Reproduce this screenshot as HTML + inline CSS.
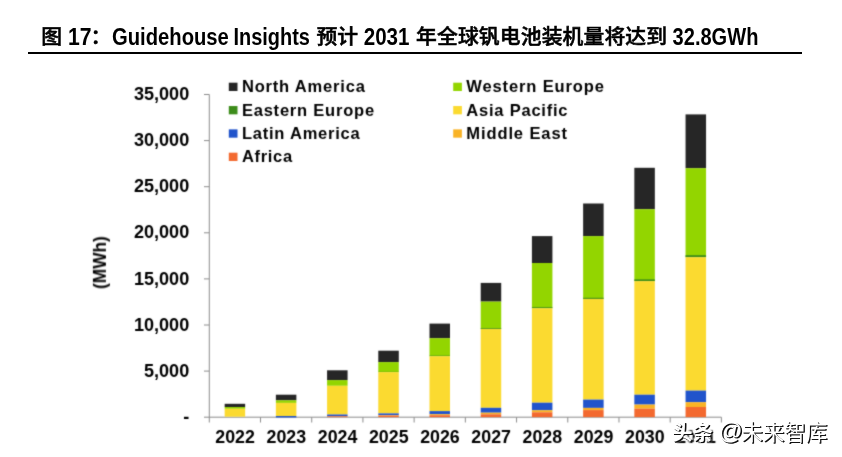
<!DOCTYPE html>
<html lang="zh-CN">
<head>
<meta charset="utf-8">
<title>图 17：Guidehouse Insights 预计 2031 年全球钒电池装机量将达到 32.8GWh</title>
<style>
html,body{margin:0;padding:0;background:#fff}
body{width:842px;height:457px;position:relative;overflow:hidden;font-family:"Liberation Sans","Noto Sans CJK SC",sans-serif}
.title{position:absolute;left:41px;top:22px;margin:0;white-space:pre;font:500 20.8px/30px "Liberation Sans","Noto Sans CJK SC",sans-serif;color:#000}
.title .c{position:relative;top:-1px;-webkit-text-stroke:0.55px #000}
.title .l{display:inline-block;font-size:23px;font-weight:700;transform-origin:0 50%}
.rule{position:absolute;left:28px;top:52px;width:774px;height:2px;background:#000}
.chart{position:absolute;left:0;top:0;width:842px;height:457px}
.chart text{font:700 18px "Liberation Sans",sans-serif;fill:#000}
.chart text.lg{font-size:16.5px}
.wm{position:absolute;left:672px;top:417px;margin:0;white-space:pre;font:400 21.5px/30px "Liberation Sans","Noto Sans CJK SC",sans-serif;color:#fff;text-shadow:1px 1px 0 #111,1.4px 1.4px 0.4px #111}
.wm b{text-shadow:1px 1px 0 #111,1.4px 1.4px 0.4px #111,0 0 1.5px #fff,0 0 1.5px #fff,-1px -1px 2px #fff,1px 1px 2px #fff}
.wm b{font-weight:700;font-size:20.4px;margin-right:5.8px}
.wm i{font-style:normal;font-size:23.8px;margin-right:-1.6px;position:relative;top:-0.6px}
</style>
</head>
<body>
<h1 class="title"><span class="c" style="margin-left:0.32px">图</span><span class="l" style="margin-left:-0.42px;transform:scaleX(0.9195)"> 17</span><span class="c" style="margin-left:-3.12px">：</span><span class="l" style="margin-left:0.18px;transform:scaleX(0.8789)">Guidehouse</span><span class="l" style="margin-left:-16.44px;transform:scaleX(0.8664)"> Insights </span><span class="c" style="margin-left:-12.41px">预计</span><span class="l" style="margin-left:-0.08px;transform:scaleX(0.8947)"> 2031 </span><span class="c" style="margin-left:-5.94px;letter-spacing:0.13px">年全球钒电池装机量将达到</span><span class="l" style="margin-left:0.12px;transform:scaleX(0.8719)"> 32.8GWh</span></h1>
<div class="rule"></div>
<svg class="chart" width="842" height="457" viewBox="0 0 842 457">
<defs><filter id="soft" x="0" y="0" width="842" height="457" filterUnits="userSpaceOnUse" color-interpolation-filters="sRGB"><feConvolveMatrix order="3" kernelMatrix="1 3 1 3 18 3 1 3 1" divisor="34" edgeMode="duplicate" preserveAlpha="false"/></filter></defs>
<g filter="url(#soft)">
<g stroke="#8c8c8c" stroke-width="1" fill="none">
<path d="M209.30 94.50V422.50"/>
<path d="M204.00 417.20H721.40"/>
<path d="M204.00 371.10H209.30"/>
<path d="M204.00 325.00H209.30"/>
<path d="M204.00 278.90H209.30"/>
<path d="M204.00 232.80H209.30"/>
<path d="M204.00 186.70H209.30"/>
<path d="M204.00 140.60H209.30"/>
<path d="M204.00 94.50H209.30"/>
<path d="M260.51 417.20V422.50"/>
<path d="M311.72 417.20V422.50"/>
<path d="M362.93 417.20V422.50"/>
<path d="M414.14 417.20V422.50"/>
<path d="M465.35 417.20V422.50"/>
<path d="M516.56 417.20V422.50"/>
<path d="M567.77 417.20V422.50"/>
<path d="M618.98 417.20V422.50"/>
<path d="M670.19 417.20V422.50"/>
<path d="M721.40 417.20V422.50"/>
</g>
<rect x="224.66" y="403.80" width="20.50" height="3.20" fill="#262626"/>
<rect x="224.66" y="407.00" width="20.50" height="1.80" fill="#93d500"/>
<rect x="224.66" y="408.80" width="20.50" height="7.90" fill="#fbda30"/>
<rect x="275.87" y="394.70" width="20.50" height="5.60" fill="#262626"/>
<rect x="275.87" y="400.30" width="20.50" height="2.60" fill="#93d500"/>
<rect x="275.87" y="402.90" width="20.50" height="13.10" fill="#fbda30"/>
<rect x="275.87" y="416.00" width="20.50" height="1.50" fill="#2154cb"/>
<rect x="327.08" y="370.30" width="20.50" height="9.80" fill="#262626"/>
<rect x="327.08" y="380.10" width="20.50" height="5.70" fill="#93d500"/>
<rect x="327.08" y="385.80" width="20.50" height="28.70" fill="#fbda30"/>
<rect x="327.08" y="414.50" width="20.50" height="1.60" fill="#2154cb"/>
<rect x="327.08" y="416.10" width="20.50" height="0.20" fill="#f9b326"/>
<rect x="327.08" y="416.30" width="20.50" height="0.80" fill="#f3692f"/>
<rect x="378.29" y="350.70" width="20.50" height="11.40" fill="#262626"/>
<rect x="378.29" y="362.10" width="20.50" height="10.00" fill="#93d500"/>
<rect x="378.29" y="371.80" width="20.50" height="0.30" fill="#3c8c1a"/>
<rect x="378.29" y="372.10" width="20.50" height="41.30" fill="#fbda30"/>
<rect x="378.29" y="413.40" width="20.50" height="1.70" fill="#2154cb"/>
<rect x="378.29" y="415.10" width="20.50" height="0.50" fill="#f9b326"/>
<rect x="378.29" y="415.60" width="20.50" height="1.50" fill="#f3692f"/>
<rect x="429.50" y="323.60" width="20.50" height="14.60" fill="#262626"/>
<rect x="429.50" y="338.20" width="20.50" height="18.00" fill="#93d500"/>
<rect x="429.50" y="355.60" width="20.50" height="0.60" fill="#3c8c1a"/>
<rect x="429.50" y="356.20" width="20.50" height="54.90" fill="#fbda30"/>
<rect x="429.50" y="411.10" width="20.50" height="3.10" fill="#2154cb"/>
<rect x="429.50" y="414.20" width="20.50" height="1.00" fill="#f9b326"/>
<rect x="429.50" y="415.20" width="20.50" height="1.90" fill="#f3692f"/>
<rect x="480.71" y="282.90" width="20.50" height="18.70" fill="#262626"/>
<rect x="480.71" y="301.60" width="20.50" height="27.30" fill="#93d500"/>
<rect x="480.71" y="328.10" width="20.50" height="0.80" fill="#3c8c1a"/>
<rect x="480.71" y="328.90" width="20.50" height="78.90" fill="#fbda30"/>
<rect x="480.71" y="407.80" width="20.50" height="4.90" fill="#2154cb"/>
<rect x="480.71" y="412.70" width="20.50" height="1.60" fill="#f9b326"/>
<rect x="480.71" y="414.30" width="20.50" height="2.80" fill="#f3692f"/>
<rect x="531.91" y="236.10" width="20.50" height="26.90" fill="#262626"/>
<rect x="531.91" y="263.00" width="20.50" height="45.20" fill="#93d500"/>
<rect x="531.91" y="307.20" width="20.50" height="1.00" fill="#3c8c1a"/>
<rect x="531.91" y="308.20" width="20.50" height="94.50" fill="#fbda30"/>
<rect x="531.91" y="402.70" width="20.50" height="7.50" fill="#2154cb"/>
<rect x="531.91" y="410.20" width="20.50" height="2.10" fill="#f9b326"/>
<rect x="531.91" y="412.30" width="20.50" height="4.80" fill="#f3692f"/>
<rect x="583.12" y="203.50" width="20.50" height="32.60" fill="#262626"/>
<rect x="583.12" y="236.10" width="20.50" height="62.80" fill="#93d500"/>
<rect x="583.12" y="297.80" width="20.50" height="1.10" fill="#3c8c1a"/>
<rect x="583.12" y="298.90" width="20.50" height="100.70" fill="#fbda30"/>
<rect x="583.12" y="399.60" width="20.50" height="8.30" fill="#2154cb"/>
<rect x="583.12" y="407.90" width="20.50" height="2.20" fill="#f9b326"/>
<rect x="583.12" y="410.10" width="20.50" height="7.00" fill="#f3692f"/>
<rect x="634.34" y="167.80" width="20.50" height="41.40" fill="#262626"/>
<rect x="634.34" y="209.20" width="20.50" height="71.90" fill="#93d500"/>
<rect x="634.34" y="279.40" width="20.50" height="1.70" fill="#3c8c1a"/>
<rect x="634.34" y="281.10" width="20.50" height="113.60" fill="#fbda30"/>
<rect x="634.34" y="394.70" width="20.50" height="9.90" fill="#2154cb"/>
<rect x="634.34" y="404.60" width="20.50" height="4.10" fill="#f9b326"/>
<rect x="634.34" y="408.70" width="20.50" height="8.40" fill="#f3692f"/>
<rect x="685.55" y="114.40" width="20.50" height="53.80" fill="#262626"/>
<rect x="685.55" y="168.20" width="20.50" height="89.00" fill="#93d500"/>
<rect x="685.55" y="255.20" width="20.50" height="2.00" fill="#3c8c1a"/>
<rect x="685.55" y="257.20" width="20.50" height="133.40" fill="#fbda30"/>
<rect x="685.55" y="390.60" width="20.50" height="11.60" fill="#2154cb"/>
<rect x="685.55" y="402.20" width="20.50" height="4.80" fill="#f9b326"/>
<rect x="685.55" y="407.00" width="20.50" height="10.10" fill="#f3692f"/>
<text transform="translate(189.2 423.2) scale(1.005 0.975)" text-anchor="end">-</text>
<text transform="translate(189.2 377) scale(1.005 0.975)" text-anchor="end">5,000</text>
<text transform="translate(189.2 330.8) scale(1.005 0.975)" text-anchor="end">10,000</text>
<text transform="translate(189.2 284.6) scale(1.005 0.975)" text-anchor="end">15,000</text>
<text transform="translate(189.2 238.4) scale(1.005 0.975)" text-anchor="end">20,000</text>
<text transform="translate(189.2 192.2) scale(1.005 0.975)" text-anchor="end">25,000</text>
<text transform="translate(189.2 146) scale(1.005 0.975)" text-anchor="end">30,000</text>
<text transform="translate(189.2 99.8) scale(1.005 0.975)" text-anchor="end">35,000</text>
<text transform="translate(235.1 443.4) scale(0.99 0.975)" text-anchor="middle">2022</text>
<text transform="translate(286.31 443.4) scale(0.99 0.975)" text-anchor="middle">2023</text>
<text transform="translate(337.53 443.4) scale(0.99 0.975)" text-anchor="middle">2024</text>
<text transform="translate(388.74 443.4) scale(0.99 0.975)" text-anchor="middle">2025</text>
<text transform="translate(439.94 443.4) scale(0.99 0.975)" text-anchor="middle">2026</text>
<text transform="translate(491.16 443.4) scale(0.99 0.975)" text-anchor="middle">2027</text>
<text transform="translate(542.37 443.4) scale(0.99 0.975)" text-anchor="middle">2028</text>
<text transform="translate(593.58 443.4) scale(0.99 0.975)" text-anchor="middle">2029</text>
<text transform="translate(644.79 443.4) scale(0.99 0.975)" text-anchor="middle">2030</text>
<text transform="translate(696 443.4) scale(0.99 0.975)" text-anchor="middle">2031</text>
<text transform="translate(105.9 262.6) scale(1 0.96) rotate(-90)" text-anchor="middle">(MWh)</text>
<rect x="228.80" y="82.70" width="8.70" height="8.30" fill="#262626"/>
<text class="lg" x="241.9" y="92.3" letter-spacing="0.83">North America</text>
<rect x="228.80" y="106.03" width="8.70" height="8.30" fill="#3c8c1a"/>
<text class="lg" x="241.9" y="115.63" letter-spacing="0.79">Eastern Europe</text>
<rect x="228.80" y="129.36" width="8.70" height="8.30" fill="#2154cb"/>
<text class="lg" x="241.9" y="138.96" letter-spacing="0.78">Latin America</text>
<rect x="228.80" y="152.69" width="8.70" height="8.30" fill="#f3692f"/>
<text class="lg" x="241.9" y="162.29" letter-spacing="0.68">Africa</text>
<rect x="453.20" y="82.70" width="8.70" height="8.30" fill="#93d500"/>
<text class="lg" x="466.3" y="92.3" letter-spacing="0.88">Western Europe</text>
<rect x="453.20" y="106.03" width="8.70" height="8.30" fill="#fbda30"/>
<text class="lg" x="466.3" y="115.63" letter-spacing="0.78">Asia Pacific</text>
<rect x="453.20" y="129.36" width="8.70" height="8.30" fill="#f9b326"/>
<text class="lg" x="466.3" y="138.96" letter-spacing="0.9">Middle East</text>
</g>
</svg>
<p class="wm"><b>头条</b><i>@</i>未来智库</p>
</body>
</html>
